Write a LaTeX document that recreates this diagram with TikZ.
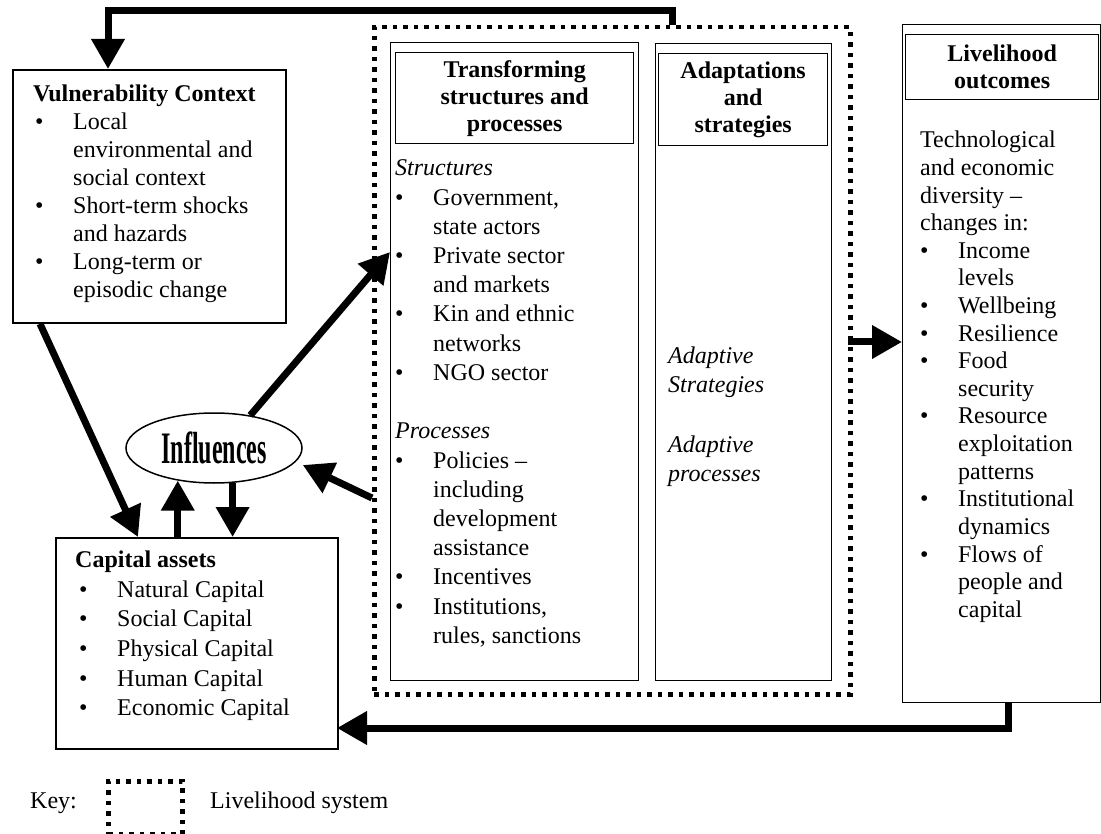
\documentclass[tikz,border=0pt]{standalone}
\usepackage{fontspec}
\setmainfont{Liberation Serif}
\usepackage{graphicx}
\usetikzlibrary{arrows.meta,calc,shapes.geometric}

\newcommand{\bodyfont}{\fontsize{24}{27.6}\selectfont}
\newcommand{\bl}{\makebox[38pt][l]{\textbullet}}
\newcommand{\ct}{\hspace*{38pt}}

\tikzset{
  frame/.style={draw, line width=1.8pt, anchor=north west, inner sep=0pt},
  colbox/.style={draw, line width=1.3pt, anchor=north west, inner sep=0pt},
  hdr/.style={colbox, align=center, font=\fontsize{24}{27}\selectfont\bfseries},
  txt/.style={anchor=base west, inner sep=0pt},
  sysbox/.style={draw, line width=4.5pt, dash pattern=on 4.5pt off 6pt, anchor=north west, inner sep=0pt},
  conn/.style={line width=7pt, line join=miter, -{Triangle[width=32pt,length=30pt]}}
}

\begin{document}
\begin{tikzpicture}[x=1pt, y=-1pt, font=\bodyfont]
  \useasboundingbox (0,0) rectangle (1101,834);
  % livelihood system
  \node[sysbox, minimum width=476, minimum height=667] (sys) at (372,25) {};
  % columns inside the system
  \node[colbox, minimum width=248, minimum height=638] (trs) at (390,42) {};
  \node[hdr, minimum width=238, minimum height=91] (trh) at (395,52) {Transforming\\structures and\\processes};
  \node[colbox, minimum width=176, minimum height=637] (ads) at (655,43) {};
  \node[hdr, minimum width=169, minimum height=92] (adh) at (658,53) {Adaptations\\and\\strategies};
  % outcomes
  \node[colbox, minimum width=198, minimum height=678] (liv) at (902,24) {};
  \node[hdr, minimum width=193, minimum height=65] (lvh) at (905,34) {Livelihood\\outcomes};
  % vulnerability and assets
  \node[frame, minimum width=273, minimum height=253] (vul) at (12,69) {};
  \node[frame, minimum width=282, minimum height=211] (cap) at (55,537) {};
  \node[draw, ellipse, line width=1.5pt, minimum width=176, minimum height=70, inner sep=0pt] (infl) at (214,448)
    {\fontsize{30}{30}\selectfont\bfseries\scalebox{0.8}[1.5]{Influences}};

  % box texts
  \node[txt, font=\bodyfont\bfseries] (vt) at (33,102) {Vulnerability Context};
  \foreach \t [count=\i from 0] in {{\bl Local}, {\ct environmental and}, {\ct social context},
      {\bl Short-term shocks}, {\ct and hazards}, {\bl Long-term or}, {\ct episodic change}}
    \node[txt] (v\i) at (35,130+27.9*\i) {\t};
  \node[txt, font=\bodyfont\bfseries] (ct) at (75,567) {Capital assets};
  \foreach \t [count=\i from 0] in {Natural Capital, Social Capital, Physical Capital,
      Human Capital, Economic Capital}
    \node[txt] (c\i) at (79,597+29.7*\i) {\bl\t};
  \foreach \t [count=\i from 0] in {{\textit{Structures}}, {\bl Government,}, {\ct state actors},
      {\bl Private sector}, {\ct and markets}, {\bl Kin and ethnic}, {\ct networks}, {\bl NGO sector},
      {}, {\textit{Processes}}, {\bl Policies --}, {\ct including}, {\ct development}, {\ct assistance},
      {\bl Incentives}, {\bl Institutions,}, {\ct rules, sanctions}}
    \node[txt] (s\i) at (395,176+29.2*\i) {\t};
  \node[txt] (a1) at (668,363) {\textit{Adaptive}};
  \node[txt] (a2) at (668,392) {\textit{Strategies}};
  \node[txt] (a3) at (668,452) {\textit{Adaptive}};
  \node[txt] (a4) at (668,481) {\textit{processes}};
  \foreach \t [count=\i from 0] in {Technological, and economic, {diversity --}, changes in:,
      {\bl Income}, {\ct levels}, {\bl Wellbeing}, {\bl Resilience}, {\bl Food}, {\ct security},
      {\bl Resource}, {\ct exploitation}, {\ct patterns}, {\bl Institutional}, {\ct dynamics},
      {\bl Flows of}, {\ct people and}, {\ct capital}}
    \node[txt] (o\i) at (920,148+27.6*\i) {\t};

  % connectors
  \coordinate (ltop) at (672,25);
  \coordinate (vin) at (108,69);
  \draw[conn] (ltop) -- ++(0,-14) -| (vin);
  \coordinate (sout) at (848,342);
  \draw[conn] (sout) -- (sout -| liv.west);
  \coordinate (lout) at (1008,702);
  \coordinate (cin) at (337,728);
  \draw[conn] (lout) |- (cin);
  \coordinate (tin) at (390,252);
  \draw[conn] (infl.42) -- (tin);
  \coordinate (sin) at (372,498);
  \draw[conn] (sin) -- ($(infl.east)+(0,17)$);
  \draw[conn] (infl.222 |- cap.north) -- (infl.222);
  \draw[conn] (infl.298) -- (infl.298 |- cap.north);
  \draw[conn] ($(vul.south west)+(28,0)$) -- ($(cap.north west)+(83,0)$);

  % key
  \node[txt, anchor=west] (keylbl) at (30,803) {Key:};
  \node[sysbox, minimum width=74, minimum height=53] (keybox) at (106,779) {};
  \node[txt, anchor=west] (keytxt) at (210,803) {Livelihood system};
\end{tikzpicture}
\end{document}
